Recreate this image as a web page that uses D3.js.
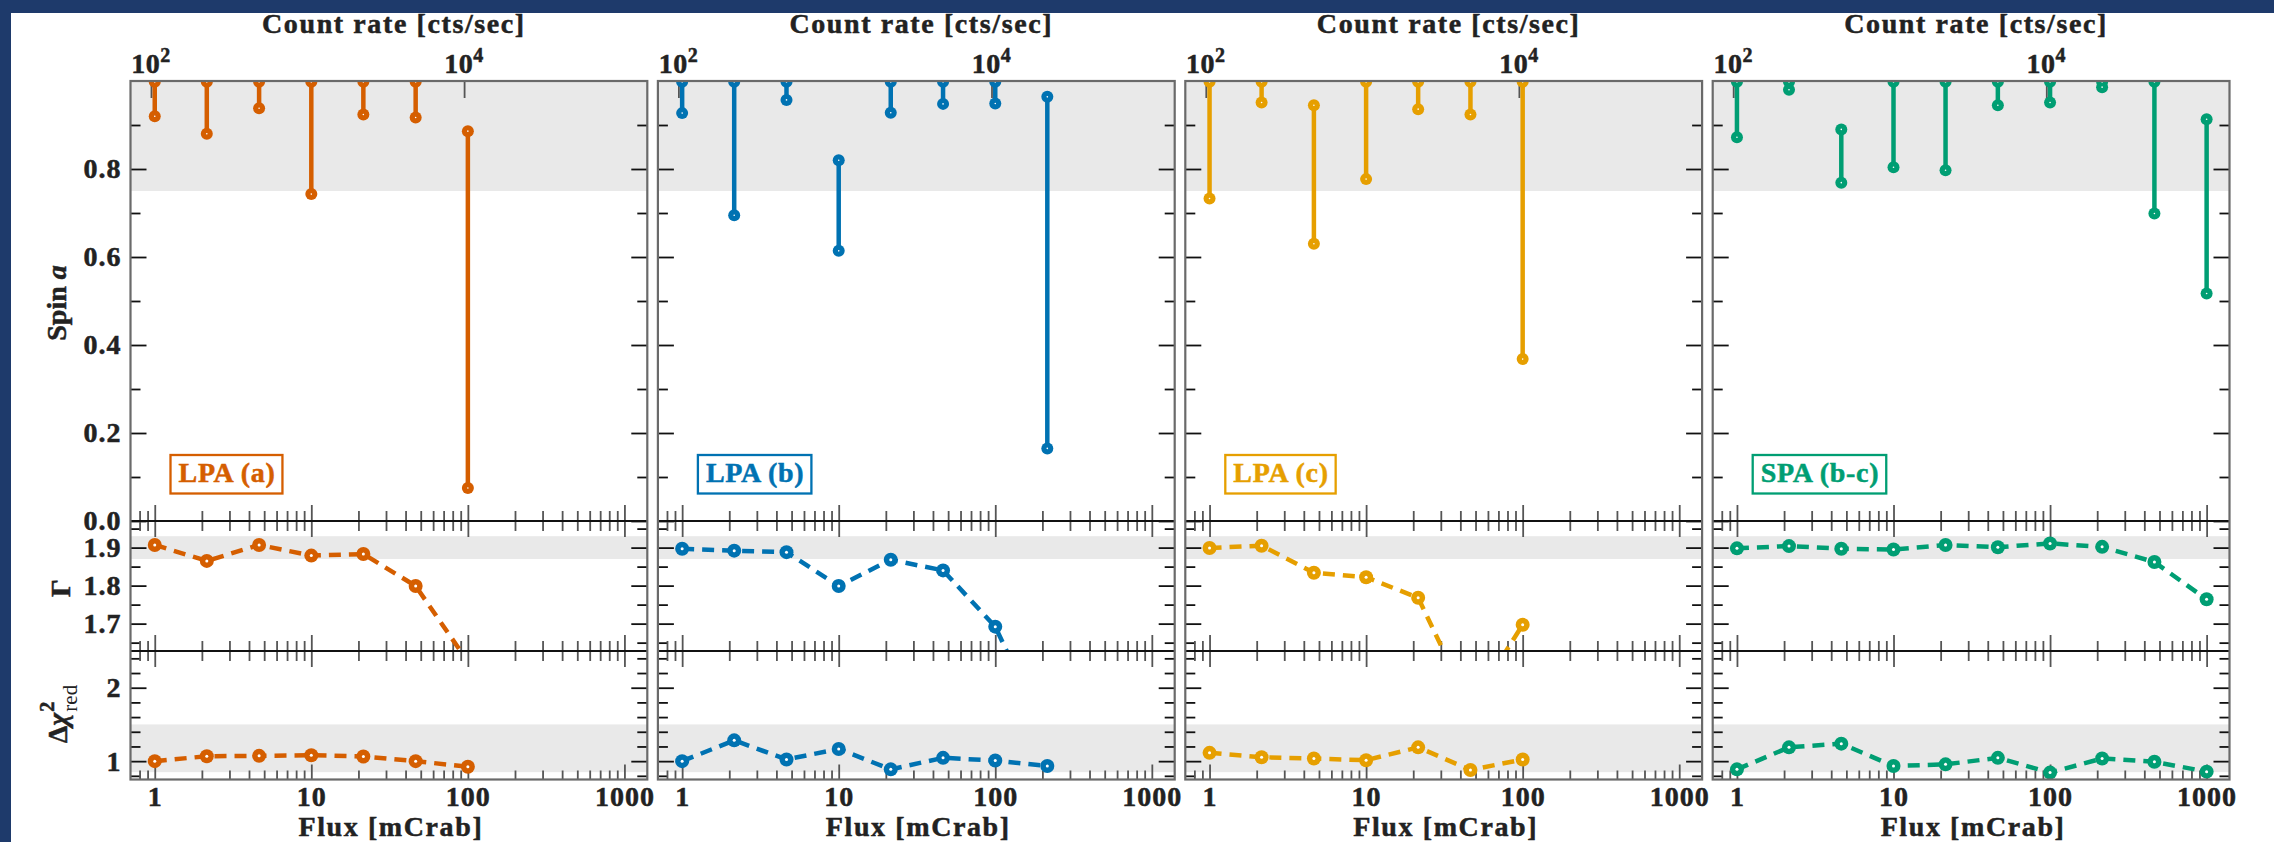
<!DOCTYPE html>
<html>
<head>
<meta charset="utf-8">
<style>
    body { margin: 0; background: #1e3a6b; }
    svg { display: block; }
    text {
        font-family: "Liberation Serif", "Times New Roman", serif;
        font-weight: bold;
        fill: #222;
        stroke: #222;
        stroke-width: 0.5px;
    }
    .axis text { font-size: 28px; letter-spacing: 1px; }
    .tick line { stroke-width: 1.8px; }
    .title { font-size: 28px; letter-spacing: 1.6px; }
    .ylab { font-size: 28px; }
    .legend { font-size: 28px; letter-spacing: 0.7px; }
</style>
</head>
<body>
<svg width="2274" height="842"></svg>
<script src="https://d3js.org/d3.v7.min.js"></script>
<script>

    // ---- data ----
    const flux = [1, 2.15, 4.64, 10, 21.5, 46.4, 100, 215, 464, 1000];
    const panelNames = ["LPA (a)", "LPA (b)", "LPA (c)", "SPA (b-c)"];
    const panelColors = ["#D55E00", "#0072B2", "#E69F00", "#009E73"];

    const spinHigh = [
        [0.998, 0.998, 0.998, 0.998, 0.998, 0.998, 0.886],
        [0.998, 0.998, 0.998, 0.820, 0.998, 0.998, 0.998, 0.964],
        [0.998, 0.998, 0.945, 0.998, 0.998, 0.998, 0.998],
        [0.998, 0.998, 0.890, 0.998, 0.998, 0.998, 0.998, 0.998, 0.998, 0.913]
    ];
    const spinLow = [
        [0.920, 0.880, 0.938, 0.743, 0.924, 0.917, 0.075],
        [0.927, 0.695, 0.957, 0.614, 0.928, 0.948, 0.949, 0.165],
        [0.733, 0.951, 0.630, 0.777, 0.936, 0.924, 0.368],
        [0.872, 0.980, 0.769, 0.804, 0.797, 0.945, 0.951, 0.986, 0.699, 0.517]
    ];
    const gammaVals = [
        [1.907, 1.865, 1.907, 1.879, 1.883, 1.799, 1.60],
        [1.897, 1.892, 1.888, 1.799, 1.868, 1.840, 1.692, 1.40],
        [1.899, 1.905, 1.834, 1.822, 1.768, 1.48, 1.697],
        [1.898, 1.904, 1.897, 1.895, 1.907, 1.901, 1.911, 1.902, 1.862, 1.764]
    ];
    const chiVals = [
        [1.00, 1.067, 1.072, 1.081, 1.063, 1.00, 0.924],
        [1.00, 1.283, 1.023, 1.166, 0.888, 1.045, 1.009, 0.933],
        [1.113, 1.054, 1.036, 1.013, 1.188, 0.879, 1.023],
        [0.888, 1.188, 1.238, 0.933, 0.956, 1.045, 0.844, 1.036, 0.991, 0.857]
    ];

    const spinBand = [0.75, 1.0];
    const gammaBand = [1.87, 1.93];
    const chiBand = [0.85, 1.5];

    const spinTicks = [0, 0.2, 0.4, 0.6, 0.8];
    const spinMinor = [0.1, 0.3, 0.5, 0.7, 0.9];
    const gammaTicks = [1.7, 1.8, 1.9];
    const gammaMinor = [1.65, 1.75, 1.85, 1.95];
    const chiTicks = [1, 2];
    const chiMinor = [0.8, 1.2, 1.4, 1.6, 1.8, 2.2, 2.4];
    const fluxTicks = [1, 10, 100, 1000];
    const rateTicks = [100, 10000];
    const rateExp = ["2", "4"];

    // ---- layout ----
    const W = 2274, H = 842;
    const xLeft = 130.5, xStep = 527.4, xWidth = 516.8;
    const fluxDomain = [0.7, 1400];
    const rateFactor = 105.7;   // cts/sec per mCrab
    const rows = {
        spin:  { top: 81,  bottom: 521,   domain: [0, 1] },
        gamma: { top: 521, bottom: 651,   domain: [1.628, 1.97] },
        chi:   { top: 651, bottom: 779.5, domain: [0.75, 2.5] }
    };

    const fluxMinor = [0.1, 1, 10, 100]
        .flatMap(d => d3.range(2, 10).map(m => +(m * d).toPrecision(3)))
        .filter(v => v > 0.71 && v < 1400);

    let svg = d3.select("svg");

    svg.append("rect")
        .attr("x", 11).attr("y", 13)
        .attr("width", W - 11).attr("height", H - 13)
        .attr("fill", "white");

    let defs = svg.append("defs");

    function noDomain(g) { g.select(".domain").remove(); }

    panelNames.forEach(function (name, p) {

        let x0 = xLeft + p * xStep;
        let x1 = x0 + xWidth;
        let color = panelColors[p];

        let x = d3.scaleLog().domain(fluxDomain).range([x0, x1]);
        let rate = d3.scaleLog()
            .domain(fluxDomain.map(f => f * rateFactor))
            .range([x0, x1]);

        let ySpin = d3.scaleLinear().domain(rows.spin.domain).range([rows.spin.bottom, rows.spin.top]);
        let yGamma = d3.scaleLinear().domain(rows.gamma.domain).range([rows.gamma.bottom, rows.gamma.top]);
        let yChi = d3.scaleLinear().domain(rows.chi.domain).range([rows.chi.bottom, rows.chi.top]);

        let panel = svg.append("g").attr("class", "panel p" + p);

        // clip paths for each row
        Object.keys(rows).forEach(function (k) {
            defs.append("clipPath")
                .attr("id", "clip-" + k + "-" + p)
                .append("rect")
                .attr("x", x0).attr("y", rows[k].top)
                .attr("width", xWidth).attr("height", rows[k].bottom - rows[k].top);
        });

        // grey bands
        let bands = [[ySpin, spinBand], [yGamma, gammaBand], [yChi, chiBand]];
        bands.forEach(function (b) {
            panel.append("rect")
                .attr("x", x0)
                .attr("width", xWidth)
                .attr("y", b[0](b[1][1]))
                .attr("height", b[0](b[1][0]) - b[0](b[1][1]))
                .attr("fill", "#e9e9e9");
        });

        // y ticks (inward, both sides)
        let yAxes = [
            [ySpin, spinTicks, spinMinor],
            [yGamma, gammaTicks, gammaMinor],
            [yChi, chiTicks, chiMinor]
        ];
        yAxes.forEach(function (a) {
            [[a[1], 16], [a[2], 10]].forEach(function (t) {
                panel.append("g")
                    .attr("class", "axis")
                    .attr("color", "#111")
                    .attr("transform", `translate(${x0},0)`)
                    .call(d3.axisRight(a[0]).tickValues(t[0]).tickSize(t[1]).tickFormat(""))
                    .call(noDomain);
                panel.append("g")
                    .attr("class", "axis")
                    .attr("color", "#111")
                    .attr("transform", `translate(${x1},0)`)
                    .call(d3.axisLeft(a[0]).tickValues(t[0]).tickSize(t[1]).tickFormat(""))
                    .call(noDomain);
            });
        });

        // y tick labels only on the first panel
        if (p == 0) {
            [[ySpin, spinTicks, d3.format(".1f")], [yGamma, gammaTicks, d3.format(".1f")], [yChi, chiTicks, d3.format("d")]]
                .forEach(function (a) {
                    panel.append("g")
                        .attr("class", "axis")
                        .attr("transform", `translate(${x0},0)`)
                        .call(d3.axisLeft(a[0]).tickValues(a[1]).tickSize(0).tickPadding(9).tickFormat(a[2]))
                        .call(noDomain);
                });
        }

        // x ticks crossing the inner boundary lines
        [rows.spin.bottom, rows.gamma.bottom].forEach(function (yy) {
            [[fluxTicks, 16], [fluxMinor, 10]].forEach(function (t) {
                panel.append("g")
                    .attr("class", "axis")
                    .attr("color", "#555")
                    .attr("transform", `translate(0,${yy})`)
                    .call(d3.axisBottom(x).tickValues(t[0]).tickSize(t[1]).tickFormat(""))
                    .call(noDomain);
                panel.append("g")
                    .attr("class", "axis")
                    .attr("color", "#555")
                    .attr("transform", `translate(0,${yy})`)
                    .call(d3.axisTop(x).tickValues(t[0]).tickSize(t[1]).tickFormat(""))
                    .call(noDomain);
            });
        });

        // bottom x axis, ticks inward
        [[fluxTicks, 15], [fluxMinor, 9]].forEach(function (t) {
            panel.append("g")
                .attr("class", "axis")
                .attr("color", "#555")
                .attr("transform", `translate(0,${rows.chi.bottom})`)
                .call(d3.axisTop(x).tickValues(t[0]).tickSize(t[1]).tickFormat(""))
                .call(noDomain);
        });
        panel.append("g")
            .attr("class", "axis")
            .attr("transform", `translate(0,${rows.chi.bottom})`)
            .call(d3.axisBottom(x).tickValues(fluxTicks).tickSize(0).tickPadding(6.5).tickFormat(d3.format("d")))
            .call(noDomain);

        panel.append("text")
            .attr("class", "title")
            .attr("x", (x0 + x1) / 2 + 2)
            .attr("y", 836)
            .attr("text-anchor", "middle")
            .text("Flux [mCrab]");

        // top count-rate axis
        panel.append("g")
            .attr("class", "axis")
            .attr("color", "#555")
            .attr("transform", `translate(0,${rows.spin.top})`)
            .call(d3.axisBottom(rate).tickValues(rateTicks).tickSize(17).tickFormat(""))
            .call(noDomain);

        rateTicks.forEach(function (v, i) {
            let t = panel.append("text")
                .attr("class", "title")
                .style("letter-spacing", "0.5px")
                .attr("x", rate(v))
                .attr("y", 73)
                .attr("text-anchor", "middle")
                .text("10");
            t.append("tspan")
                .attr("dy", -11)
                .style("font-size", "20px")
                .text(rateExp[i]);
        });

        panel.append("text")
            .attr("class", "title")
            .attr("x", (x0 + x1) / 2 + 5)
            .attr("y", 33)
            .attr("text-anchor", "middle")
            .text("Count rate [cts/sec]");

        // spin ranges
        let spinG = panel.append("g").attr("clip-path", `url(#clip-spin-${p})`);
        let spinData = spinHigh[p].map((h, i) => ({ f: flux[i], hi: h, lo: spinLow[p][i] }));

        spinG.selectAll(".range")
            .data(spinData)
            .join("line")
            .attr("class", "range")
            .attr("x1", d => x(d.f)).attr("x2", d => x(d.f))
            .attr("y1", d => ySpin(d.hi)).attr("y2", d => ySpin(d.lo))
            .style("stroke", color)
            .style("stroke-width", 4.5);

        let ends = spinData.flatMap(d => [{ f: d.f, v: d.hi }, { f: d.f, v: d.lo }]);
        spinG.selectAll(".end")
            .data(ends)
            .join("circle")
            .attr("class", "end")
            .attr("cx", d => x(d.f)).attr("cy", d => ySpin(d.v))
            .attr("r", 6)
            .style("fill", color);
        spinG.selectAll(".dot")
            .data(ends)
            .join("circle")
            .attr("class", "dot")
            .attr("cx", d => x(d.f)).attr("cy", d => ySpin(d.v))
            .attr("r", 0.8)
            .style("fill", "white");

        // gamma and chi dashed series
        [[gammaVals[p], yGamma, "gamma"], [chiVals[p], yChi, "chi"]].forEach(function (s) {
            let pts = s[0].map((v, i) => ({ f: flux[i], v: v }));
            let g = panel.append("g").attr("clip-path", `url(#clip-${s[2]}-${p})`);
            let line = d3.line().x(d => x(d.f)).y(d => s[1](d.v));
            g.append("path")
                .attr("d", line(pts))
                .style("fill", "none")
                .style("stroke", color)
                .style("stroke-width", 4.5)
                .style("stroke-dasharray", "12,8");
            g.selectAll(".pt")
                .data(pts)
                .join("circle")
                .attr("class", "pt")
                .attr("cx", d => x(d.f)).attr("cy", d => s[1](d.v))
                .attr("r", 7)
                .style("fill", color);
            g.selectAll(".hole")
                .data(pts)
                .join("circle")
                .attr("class", "hole")
                .attr("cx", d => x(d.f)).attr("cy", d => s[1](d.v))
                .attr("r", 1.5)
                .style("fill", "white");
        });

        // legend box
        let leg = panel.append("text")
            .attr("class", "legend")
            .attr("x", x0 + 48)
            .attr("y", 481.7)
            .style("fill", color)
            .style("stroke", color)
            .text(name);
        let lw = leg.node().getComputedTextLength();
        panel.insert("rect", ".legend")
            .attr("x", x0 + 40)
            .attr("y", 455)
            .attr("width", lw + 15)
            .attr("height", 38.5)
            .style("fill", "white")
            .style("stroke", color)
            .style("stroke-width", 2.3);

        // inner boundaries and frame
        [rows.spin.bottom, rows.gamma.bottom].forEach(function (yy) {
            panel.append("line")
                .attr("x1", x0).attr("x2", x1)
                .attr("y1", yy).attr("y2", yy)
                .style("stroke", "#111")
                .style("stroke-width", 2);
        });
        panel.append("rect")
            .attr("x", x0).attr("y", rows.spin.top)
            .attr("width", xWidth)
            .attr("height", rows.chi.bottom - rows.spin.top)
            .style("fill", "none")
            .style("stroke", "#6a6a6a")
            .style("stroke-width", 2.2);
    });

    // y axis titles
    let spinLab = svg.append("text")
        .attr("class", "ylab")
        .attr("text-anchor", "middle")
        .attr("transform", "translate(66,303) rotate(-90)")
        .text("Spin ");
    spinLab.append("tspan").style("font-style", "italic").text("a");

    svg.append("text")
        .attr("class", "ylab")
        .attr("text-anchor", "middle")
        .attr("transform", "translate(70,588) rotate(-90)")
        .text("Γ");

    let chiLab = svg.append("g");
    let c1 = chiLab.append("text").attr("class", "ylab").text("Δ");
    c1.append("tspan").style("font-style", "italic").text("χ");
    let w1 = c1.node().getComputedTextLength();
    chiLab.append("text")
        .attr("class", "ylab")
        .attr("x", w1 + 1).attr("y", -13)
        .style("font-size", "20px")
        .text("2");
    let red = chiLab.append("text")
        .attr("class", "ylab")
        .attr("x", w1 + 1).attr("y", 10)
        .style("font-size", "21px")
        .style("font-weight", "normal")
        .style("stroke-width", 0)
        .text("red");
    let total = w1 + 1 + red.node().getComputedTextLength();
    chiLab.attr("transform", `translate(67,714) rotate(-90) translate(${-total / 2},0)`);

</script>
</body>
</html>
